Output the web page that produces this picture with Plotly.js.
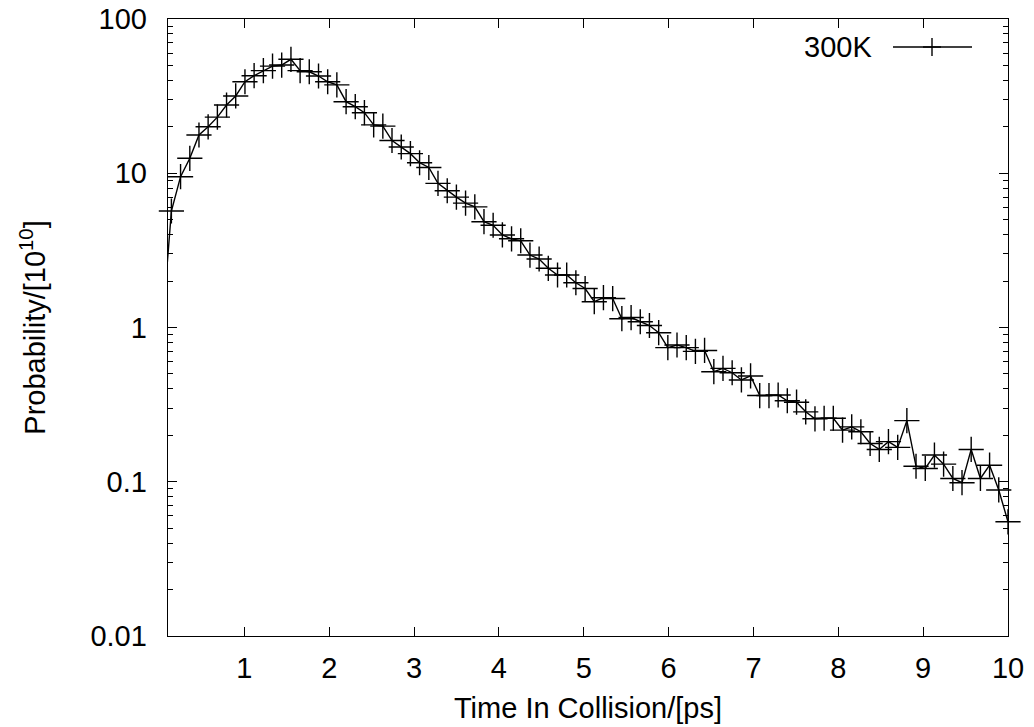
<!DOCTYPE html>
<html><head><meta charset="utf-8">
<script src="https://cdn.plot.ly/plotly-3.0.1.min.js"></script>
<style>html,body{margin:0;padding:0;background:#fff}#chart{width:1034px;height:727px}</style>
</head><body><div id="chart"></div>
<script>
// Time in collision (ps); the first entry lies just left of the visible range
const timePs = [0.032, 0.140, 0.248, 0.357, 0.465, 0.573, 0.682, 0.790, 0.898, 1.007,
  1.115, 1.224, 1.332, 1.440, 1.549, 1.657, 1.765, 1.874, 1.982, 2.090,
  2.199, 2.307, 2.415, 2.524, 2.632, 2.740, 2.849, 2.957, 3.065, 3.174,
  3.282, 3.391, 3.499, 3.607, 3.716, 3.824, 3.932, 4.041, 4.149, 4.257,
  4.366, 4.474, 4.582, 4.691, 4.799, 4.907, 5.016, 5.124, 5.232, 5.341,
  5.449, 5.558, 5.666, 5.774, 5.883, 5.991, 6.099, 6.208, 6.316, 6.424,
  6.533, 6.641, 6.749, 6.858, 6.966, 7.074, 7.183, 7.291, 7.399, 7.508,
  7.616, 7.725, 7.833, 7.941, 8.050, 8.158, 8.266, 8.375, 8.483, 8.591,
  8.700, 8.808, 8.916, 9.025, 9.133, 9.241, 9.350, 9.458, 9.566, 9.675,
  9.783, 9.891, 10.000];
// Probability in units of 10^10
const probability = [1.0, 5.69, 9.5, 12.5, 17.7, 20.0, 23.1, 27.7, 31.7, 39.2,
  42.9, 46.3, 49.5, 50.3, 54.8, 46.3, 45.5, 42.7, 39.2, 37.4,
  29.1, 27.0, 24.7, 20.6, 20.2, 16.3, 14.8, 13.4, 11.7, 10.9,
  8.6, 7.7, 7.0, 6.4, 6.05, 4.85, 4.6, 3.98, 3.76, 3.65,
  2.95, 2.78, 2.42, 2.19, 2.19, 1.95, 1.79, 1.47, 1.56, 1.54,
  1.14, 1.16, 1.09, 1.03, 0.925, 0.74, 0.77, 0.74, 0.70, 0.71,
  0.517, 0.543, 0.509, 0.457, 0.485, 0.362, 0.362, 0.365, 0.335, 0.328,
  0.284, 0.256, 0.258, 0.258, 0.216, 0.227, 0.211, 0.177, 0.162, 0.182,
  0.167, 0.249, 0.126, 0.122, 0.149, 0.13, 0.105, 0.0986, 0.162, 0.105,
  0.128, 0.0885, 0.055];
const seriesName = '300K';
const xTickVals = [1, 2, 3, 4, 5, 6, 7, 8, 9, 10];
const xTickText = ['1', '2', '3', '4', '5', '6', '7', '8', '9', '10'];
const yTickVals = [0.01, 0.1, 1, 10, 100];
const yTickText = ['0.01', '0.1', '1', '10', '100'];

const FONT = 'Liberation Sans, Arial, sans-serif';
const FS = 29;
const W = 1034, H = 727;
const M = {l: 168, r: 26, t: 19, b: 91};
const pw = W - M.l - M.r, ph = H - M.t - M.b;
const px = v => (v - M.l) / pw;          // pixel -> paper x
const py = v => (M.t + ph - v) / ph;     // pixel -> paper y

const traces = [
  { // connecting line (clipped at the plot frame)
    x: timePs, y: probability, type: 'scatter', mode: 'lines', yaxis: 'y2',
    line: {color: '#000', width: 1.4}, showlegend: false, hoverinfo: 'skip', name: seriesName
  },
  { // point markers
    x: timePs.slice(1), y: probability.slice(1), type: 'scatter', mode: 'markers',
    marker: {symbol: 'cross-thin-open', size: 18, color: '#000', line: {color: '#000', width: 1.4}},
    cliponaxis: false, showlegend: false, name: seriesName
  }
];

const axisCommon = {
  showline: true, linecolor: '#000', linewidth: 1.3, mirror: 'ticks',
  ticks: 'inside', ticklen: 9, tickwidth: 1, tickcolor: '#000',
  showgrid: false, zeroline: false, automargin: false,
  tickfont: {family: FONT, size: FS, color: '#000'}
};
const minorTicks = {ticks: 'inside', ticklen: 5, tickcolor: '#000', tickwidth: 1, dtick: 'D1', showgrid: false};

const layout = {
  width: W, height: H, margin: M,
  paper_bgcolor: '#fff', plot_bgcolor: '#fff',
  showlegend: false,
  xaxis: Object.assign({}, axisCommon, {
    range: [0.1, 10], tickmode: 'array', tickvals: xTickVals, ticktext: xTickText,
    ticklabelstandoff: 6,
    title: {text: 'Time In Collision/[ps]', font: {family: FONT, size: FS, color: '#000'}, standoff: 14}
  }),
  yaxis: Object.assign({}, axisCommon, {
    type: 'log', range: [-2, 2], tickmode: 'array', tickvals: yTickVals, ticktext: yTickText,
    ticklabelstandoff: 14, minor: minorTicks,
    title: {text: 'Probability/[10<sup>10</sup>]', font: {family: FONT, size: FS, color: '#000'}, standoff: 36}
  }),
  yaxis2: Object.assign({}, axisCommon, {
    type: 'log', range: [-2, 2], overlaying: 'y', side: 'right', showticklabels: false,
    mirror: false, tickmode: 'array', tickvals: yTickVals, minor: minorTicks
  }),
  annotations: [{
    xref: 'paper', yref: 'paper', x: px(874), y: py(47), xanchor: 'right', yanchor: 'middle',
    text: seriesName, showarrow: false, font: {family: FONT, size: FS, color: '#000'}
  }],
  shapes: [
    {type: 'line', xref: 'paper', yref: 'paper', x0: px(893), x1: px(972), y0: py(47), y1: py(47), line: {color: '#000', width: 1.4}},
    {type: 'line', xref: 'paper', yref: 'paper', x0: px(923), x1: px(941), y0: py(47), y1: py(47), line: {color: '#000', width: 1.4}},
    {type: 'line', xref: 'paper', yref: 'paper', x0: px(932), x1: px(932), y0: py(38), y1: py(56), line: {color: '#000', width: 1.4}}
  ]
};

Plotly.newPlot('chart', traces, layout, {displayModeBar: false, staticPlot: true});
</script>
</body></html>
